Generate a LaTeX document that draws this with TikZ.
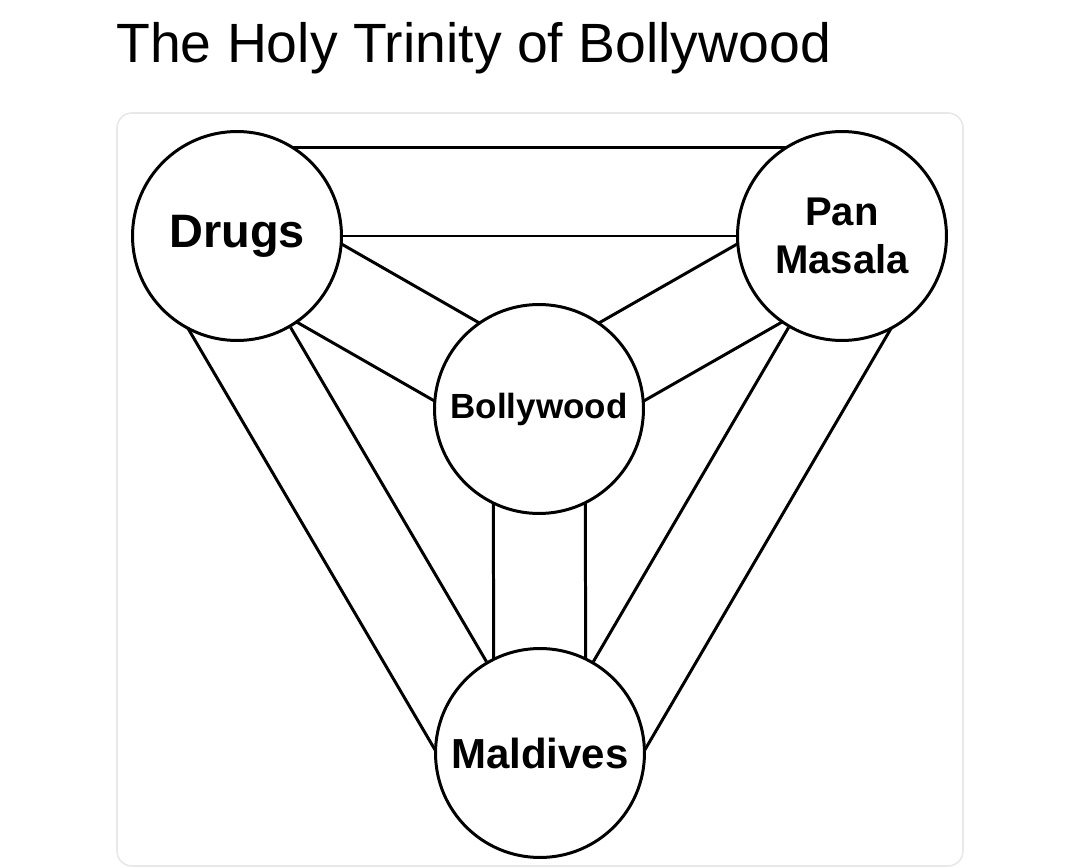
\documentclass[tikz,border=0pt]{standalone}
\usepackage{fontspec}
\setmainfont{Liberation Sans}
\usetikzlibrary{calc,backgrounds}

\begin{document}
\begin{tikzpicture}[x=0.02cm, y=-0.02cm,
  hub/.style={circle, draw, line width=1.7pt, fill=white, minimum size=4.18cm, inner sep=0pt, align=center},
  link/.style={line width=1.7pt},
  card/.style={draw=black!9, line width=0.9pt, rounded corners=0.3cm}]
  % 1px = 0.02cm, y는 아래쪽으로
  \useasboundingbox (0,0) rectangle (1080,868);
  \node[anchor=base west, inner sep=0pt, font=\fontsize{31.5}{36}\selectfont] (title) at (116,63) {The Holy Trinity of Bollywood};
  % 네 개의 원
  \node[hub, font=\bfseries\fontsize{26.7}{32}\selectfont] (drugs) at (237,236) {Drugs};
  \node[hub, font=\bfseries\fontsize{22.8}{27.3}\selectfont] (pan) at (842,236) {Pan\\Masala};
  \node[hub, font=\bfseries\fontsize{19.9}{24}\selectfont] (bolly) at (539,409) {Bollywood};
  \node[hub, font=\bfseries\fontsize{23.9}{28}\selectfont] (mald) at (540,753) {Maldives};
  \begin{scope}[on background layer]
    \draw[card] (117,113) rectangle (963,866);
    % 바깥 변: 중심선 하나 + 바깥쪽으로 평행선 하나
    \draw[link] (drugs) -- (pan);
    \draw[link] ($(drugs)!1.78cm!90:(pan)$) -- ($(pan)!1.78cm!-90:(drugs)$);
    \draw[link] (drugs) -- (mald);
    \draw[link] ($(drugs)!1.78cm!-90:(mald)$) -- ($(mald)!1.78cm!90:(drugs)$);
    \draw[link] (pan) -- (mald);
    \draw[link] ($(pan)!1.78cm!90:(mald)$) -- ($(mald)!1.78cm!-90:(pan)$);
    % 가운데로 가는 두 줄씩
    \draw[link] ($(drugs)!0.9cm!90:(bolly)$) -- ($(bolly)!0.9cm!-90:(drugs)$);
    \draw[link] ($(drugs)!0.9cm!-90:(bolly)$) -- ($(bolly)!0.9cm!90:(drugs)$);
    \draw[link] ($(pan)!0.9cm!90:(bolly)$) -- ($(bolly)!0.9cm!-90:(pan)$);
    \draw[link] ($(pan)!0.9cm!-90:(bolly)$) -- ($(bolly)!0.9cm!90:(pan)$);
    \draw[link] ($(bolly)!0.92cm!90:(mald)$) -- ($(mald)!0.92cm!-90:(bolly)$);
    \draw[link] ($(bolly)!0.92cm!-90:(mald)$) -- ($(mald)!0.92cm!90:(bolly)$);
  \end{scope}
\end{tikzpicture}
\end{document}
